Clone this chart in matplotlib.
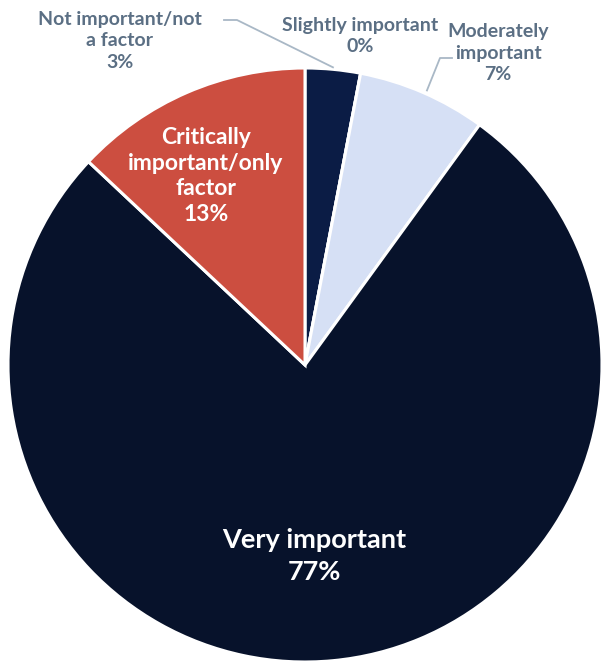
import numpy as np
import matplotlib.pyplot as plt

# importance shares, clockwise from 12 o'clock
categories = ['Not important/not\na factor', 'Slightly important', 'Moderately\nimportant',
              'Very important', 'Critically\nimportant/only\nfactor']
shares = [3, 0, 7, 77, 13]
colors = ['#0b1c45', '#8497b0', '#d6e0f5', '#07122b', '#cc4e40']

label_gray = '#5b6f84'
line_gray = '#a9b8c6'
font = 'Lato'

W, H = 602, 663
fig = plt.figure(figsize=(W / 100, H / 100), dpi=100)
ax = fig.add_axes([0, 0, 1, 1])

cx, cy, r = 305, H - 365, 297
wedges, _ = ax.pie(shares, colors=colors, startangle=90, counterclock=False,
                   center=(cx, cy), radius=r, frame=True,
                   wedgeprops=dict(edgecolor='white', linewidth=2.2))
ax.set_xlim(0, W)
ax.set_ylim(0, H)
ax.axis('off')


def edge_point(w, frac=1.0):
    ang = np.deg2rad((w.theta1 + w.theta2) / 2)
    return cx + r * frac * np.cos(ang), cy + r * frac * np.sin(ang)


def pct(v):
    return f'{v}%'


# outside labels
outside = dict(ha='center', va='center', fontsize=14, fontweight='bold',
               color=label_gray, family=font, linespacing=1.35)
ax.text(120, H - 41, categories[0] + '\n' + pct(shares[0]), **outside)
ax.text(360, H - 36, categories[1] + '\n' + pct(shares[1]), **outside)
ax.text(498, H - 53, categories[2] + '\n' + pct(shares[2]), **outside)

# leader lines
x0, y0 = edge_point(wedges[0])
ax.plot([224, 237, x0], [H - 20, H - 20, y0 + 2], color=line_gray, lw=1.3)
x2, y2 = edge_point(wedges[2])
ax.plot([x2 + 4, 440, 452], [y2 + 2, H - 58, H - 58], color=line_gray, lw=1.3)

# inside labels
ax.text(206, H - 176, categories[4] + '\n' + pct(shares[4]), ha='center', va='center',
        fontsize=16.5, fontweight='bold', color='white', family=font, linespacing=1.28)
ax.text(314, H - 556, categories[3] + '\n' + pct(shares[3]), ha='center', va='center',
        fontsize=19.5, fontweight='bold', color='white', family=font, linespacing=1.4)

fig.savefig('out.png', dpi=100, facecolor='white')
